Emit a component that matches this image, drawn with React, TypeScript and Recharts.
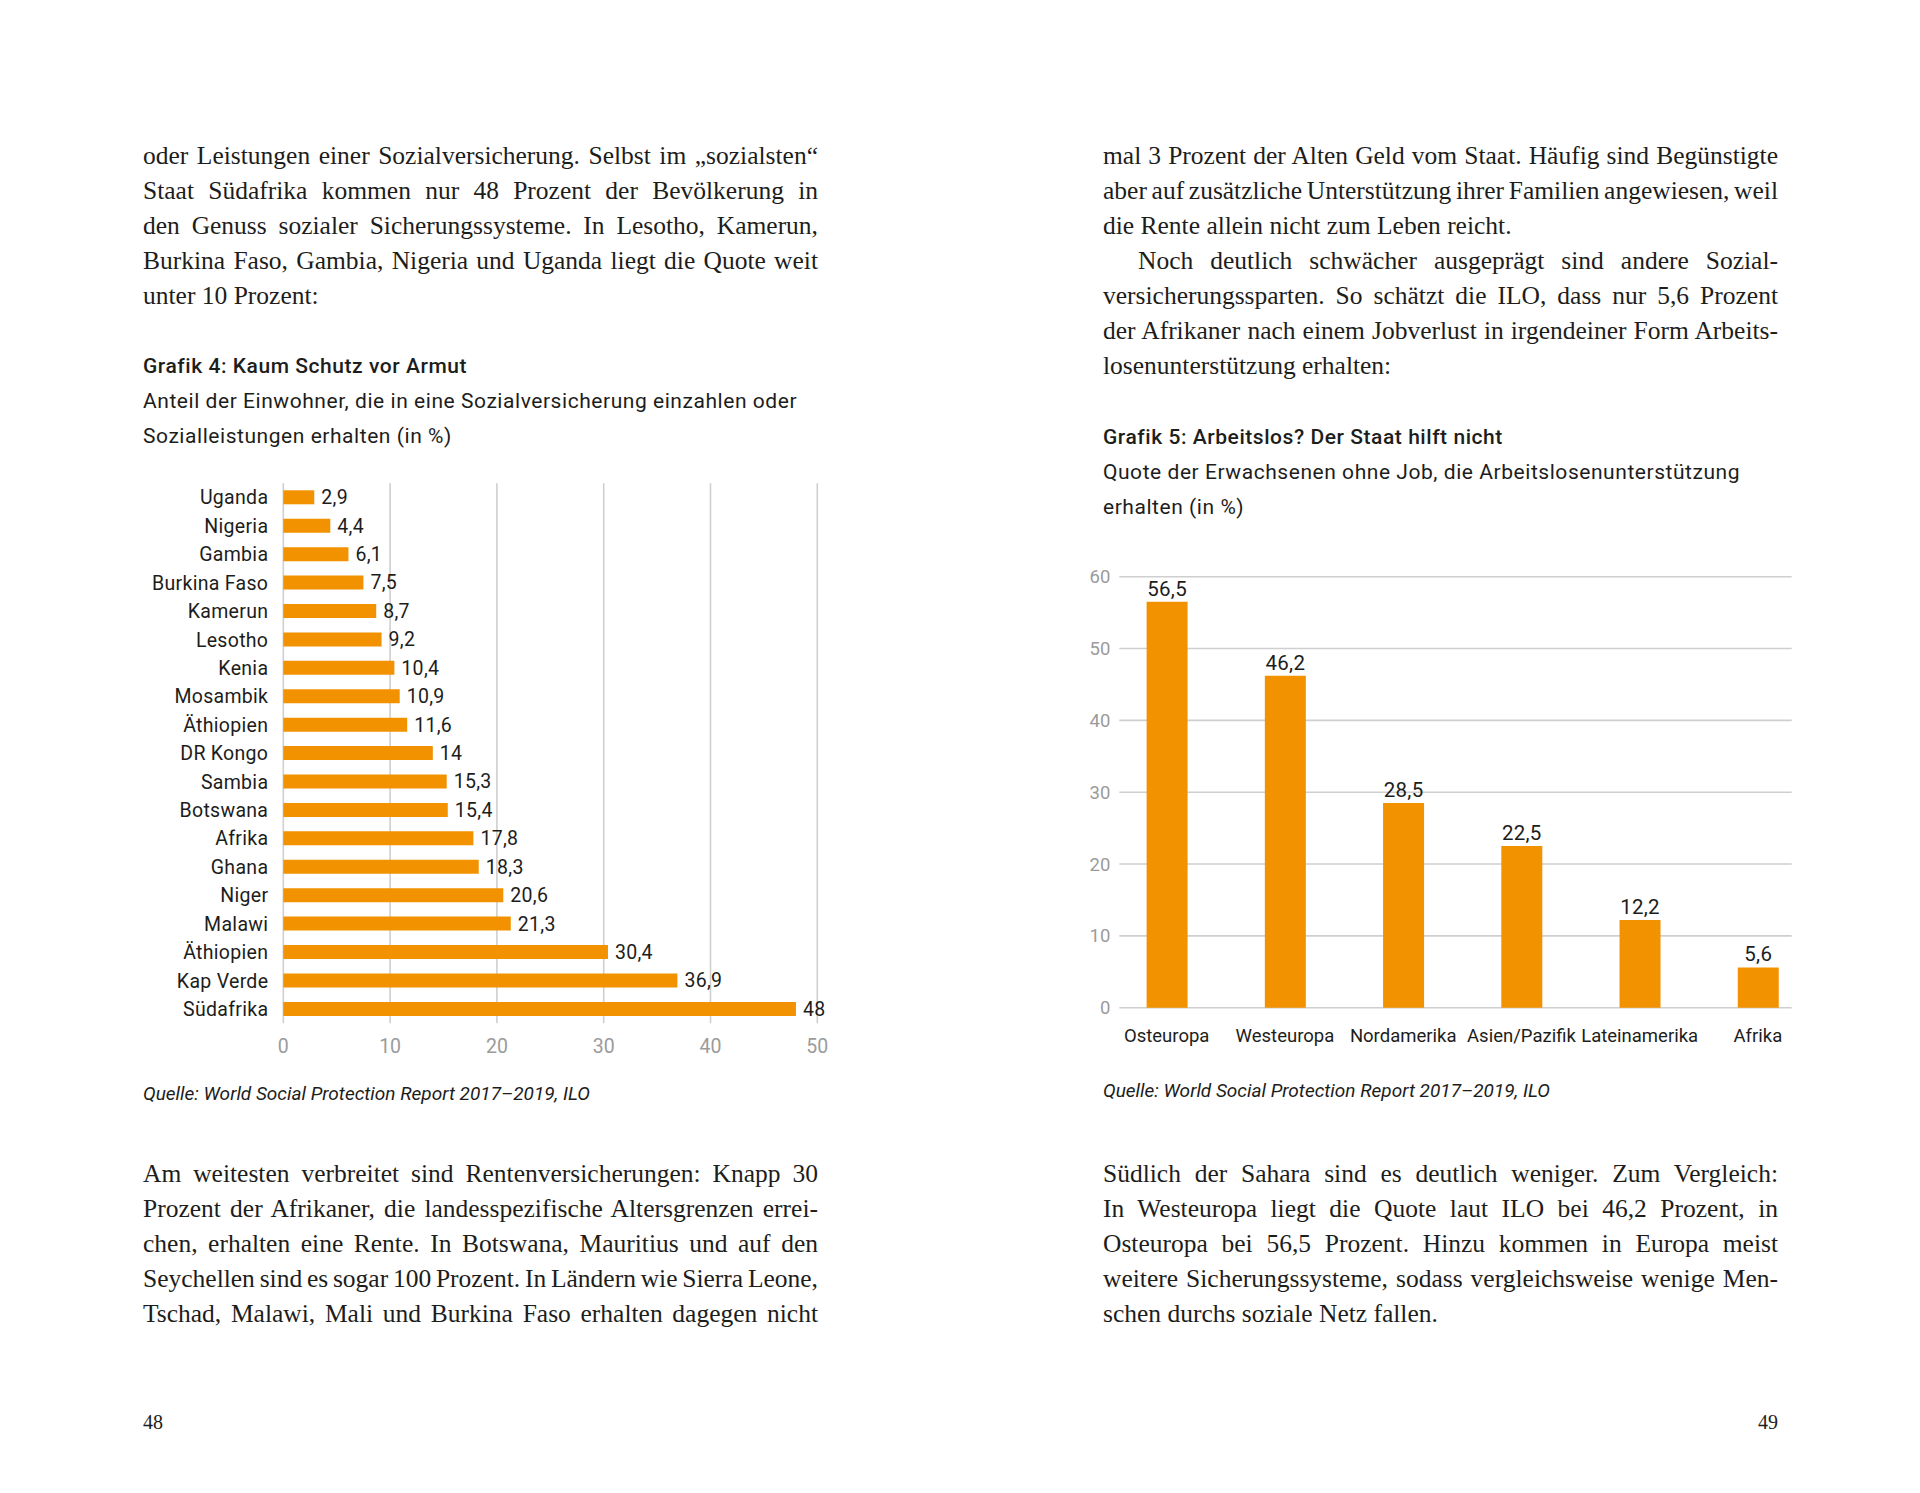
import React from "react";
import {
  BarChart,
  Bar,
  XAxis,
  YAxis,
  CartesianGrid,
  LabelList,
} from "recharts";

// Grafik 4: Anteil der Einwohner mit sozialer Sicherung (in %)
const countries = [
  "Uganda",
  "Nigeria",
  "Gambia",
  "Burkina Faso",
  "Kamerun",
  "Lesotho",
  "Kenia",
  "Mosambik",
  "Äthiopien",
  "DR Kongo",
  "Sambia",
  "Botswana",
  "Afrika",
  "Ghana",
  "Niger",
  "Malawi",
  "Äthiopien ",
  "Kap Verde",
  "Südafrika",
];
const coverage = [
  2.9, 4.4, 6.1, 7.5, 8.7, 9.2, 10.4, 10.9, 11.6, 14, 15.3, 15.4, 17.8, 18.3,
  20.6, 21.3, 30.4, 36.9, 48,
];
const coverageTicks = [0, 10, 20, 30, 40, 50];

// Grafik 5: Arbeitslosenunterstützung (in %)
const regions = [
  "Osteuropa",
  "Westeuropa",
  "Nordamerika",
  "Asien/Pazifik",
  "Lateinamerika",
  "Afrika",
];
const unemployment = [56.5, 46.2, 28.5, 22.5, 12.2, 5.6];
const unemploymentTicks = [0, 10, 20, 30, 40, 50, 60];

const ORANGE = "#f39200";
const GRID = "#cfcfcf";
const TICK_GREY = "#9b9b9b";
const INK = "#1d1d1b";
const SANS = "Roboto, 'DejaVu Sans Condensed', sans-serif";
const SERIF = "'Liberation Serif', 'DejaVu Serif', serif";

const comma = (v: any) => String(v).replace(".", ",");

const coverageData = countries.map((name, i) => ({ name, value: coverage[i] }));
const unemploymentData = regions.map((name, i) => ({
  name,
  value: unemployment[i],
}));

type Line = { text: string; last?: boolean; indent?: number };

function Para({ x, top, lines }: { x: number; top: number; lines: Line[] }) {
  return (
    <div
      style={{
        position: "absolute",
        left: x,
        top,
        width: 675,
        fontFamily: SERIF,
        fontSize: 25.5,
        lineHeight: "35px",
        color: INK,
      }}
    >
      {lines.map((l, i) => (
        <div
          key={i}
          style={{
            whiteSpace: "nowrap",
            textAlign: l.last ? "left" : "justify",
            textAlignLast: l.last ? "left" : "justify",
            // justified lines get squeezed first, the justification fills them up again
            wordSpacing: l.last ? 0 : -3,
            paddingLeft: l.indent || 0,
          }}
        >
          {l.text}
        </div>
      ))}
    </div>
  );
}

function Caption({
  x,
  top,
  title,
  sub,
}: {
  x: number;
  top: number;
  title: string;
  sub: string[];
}) {
  return (
    <div
      style={{
        position: "absolute",
        left: x,
        top,
        fontFamily: SANS,
        color: INK,
        whiteSpace: "nowrap",
        letterSpacing: 0.55,
      }}
    >
      <div style={{ fontSize: 21, fontWeight: 500, lineHeight: "36px" }}>
        {title}
      </div>
      {sub.map((s, i) => (
        <div key={i} style={{ fontSize: 21, lineHeight: "34.5px" }}>
          {s}
        </div>
      ))}
    </div>
  );
}

function Source({ x, top }: { x: number; top: number }) {
  return (
    <div
      style={{
        position: "absolute",
        left: x,
        top,
        fontFamily: SANS,
        fontStyle: "italic",
        fontSize: 19,
        lineHeight: "35px",
        color: INK,
        whiteSpace: "nowrap",
      }}
    >
      Quelle: World Social Protection Report 2017–2019, ILO
    </div>
  );
}

export default function App() {
  return (
    <div
      style={{
        position: "absolute",
        left: 0,
        top: 0,
        width: 1920,
        height: 1493,
        background: "#ffffff",
        overflow: "hidden",
      }}
    >
      {/* linke Seite */}
      <Para
        x={143}
        top={137.5}
        lines={[
          { text: "oder Leistungen einer Sozialversicherung. Selbst im „sozialsten“" },
          { text: "Staat Südafrika kommen nur 48 Prozent der Bevölkerung in" },
          { text: "den Genuss sozialer Sicherungssysteme. In Lesotho, Kamerun," },
          { text: "Burkina Faso, Gambia, Nigeria und Uganda liegt die Quote weit" },
          { text: "unter 10 Prozent:", last: true },
        ]}
      />
      <Caption
        x={143}
        top={348}
        title="Grafik 4: Kaum Schutz vor Armut"
        sub={[
          "Anteil der Einwohner, die in eine Sozialversicherung einzahlen oder",
          "Sozialleistungen erhalten (in %)",
        ]}
      />
      <div style={{ position: "absolute", left: 130, top: 470 }}>
        <BarChart
          width={720}
          height={600}
          data={coverageData}
          layout="vertical"
          margin={{ top: 13.3, right: 32.7, bottom: 16.7, left: 0 }}
          style={{ fontFamily: SANS }}
        >
          <CartesianGrid
            horizontal={false}
            stroke={GRID}
            strokeWidth={1.6}
          />
          <XAxis
            type="number"
            domain={[0, 50]}
            ticks={coverageTicks}
            axisLine={false}
            tickLine={false}
            tickMargin={9.5}
            height={30}
            tick={{ fill: TICK_GREY, fontSize: 19.5 }}
          />
          <YAxis
            type="category"
            dataKey="name"
            width={153.3}
            axisLine={false}
            tickLine={false}
            tickMargin={9}
            interval={0}
            tick={{ fill: INK, fontSize: 19.5, letterSpacing: 0.3 }}
          />
          <Bar
            dataKey="value"
            fill={ORANGE}
            barSize={14}
            isAnimationActive={false}
          >
            <LabelList
              dataKey="value"
              position="right"
              offset={7}
              formatter={comma}
              style={{ fill: INK, fontSize: 19.5, letterSpacing: 0.3 }}
            />
          </Bar>
        </BarChart>
      </div>
      <Source x={143} top={1076} />
      <Para
        x={143}
        top={1155.5}
        lines={[
          { text: "Am weitesten verbreitet sind Rentenversicherungen: Knapp 30" },
          { text: "Prozent der Afrikaner, die landesspezifische Altersgrenzen errei-" },
          { text: "chen, erhalten eine Rente. In Botswana, Mauritius und auf den" },
          { text: "Seychellen sind es sogar 100 Prozent. In Ländern wie Sierra Leone," },
          { text: "Tschad, Malawi, Mali und Burkina Faso erhalten dagegen nicht" },
        ]}
      />
      <div
        style={{
          position: "absolute",
          left: 143,
          top: 1404.5,
          fontFamily: SERIF,
          fontSize: 20,
          lineHeight: "35px",
          color: INK,
        }}
      >
        48
      </div>

      {/* rechte Seite */}
      <Para
        x={1103}
        top={137.5}
        lines={[
          { text: "mal 3 Prozent der Alten Geld vom Staat. Häufig sind Begünstigte" },
          { text: "aber auf zusätzliche Unterstützung ihrer Familien angewiesen, weil" },
          { text: "die Rente allein nicht zum Leben reicht.", last: true },
          { text: "Noch deutlich schwächer ausgeprägt sind andere Sozial-", indent: 35 },
          { text: "versicherungssparten. So schätzt die ILO, dass nur 5,6 Prozent" },
          { text: "der Afrikaner nach einem Jobverlust in irgendeiner Form Arbeits-" },
          { text: "losenunterstützung erhalten:", last: true },
        ]}
      />
      <Caption
        x={1103}
        top={419}
        title="Grafik 5: Arbeitslos? Der Staat hilft nicht"
        sub={[
          "Quote der Erwachsenen ohne Job, die Arbeitslosenunterstützung",
          "erhalten (in %)",
        ]}
      />
      <div style={{ position: "absolute", left: 1060, top: 550 }}>
        <BarChart
          width={780}
          height={520}
          data={unemploymentData}
          margin={{ top: 26.7, right: 48.3, bottom: 22.3, left: 0 }}
          style={{ fontFamily: SANS }}
        >
          <CartesianGrid vertical={false} stroke={GRID} strokeWidth={1.6} />
          <XAxis
            dataKey="name"
            axisLine={false}
            tickLine={false}
            tickMargin={15.5}
            height={40}
            interval={0}
            padding={{ left: -11.7, right: -25.3 }}
            tick={{ fill: INK, fontSize: 18.5 }}
          />
          <YAxis
            domain={[0, 60]}
            ticks={unemploymentTicks}
            width={59.3}
            axisLine={false}
            tickLine={false}
            tickMargin={3}
            tick={{ fill: TICK_GREY, fontSize: 18.5 }}
          />
          <Bar
            dataKey="value"
            fill={ORANGE}
            barSize={41}
            isAnimationActive={false}
          >
            <LabelList
              dataKey="value"
              position="top"
              offset={6}
              formatter={comma}
              style={{ fill: INK, fontSize: 20.5, letterSpacing: 0.3 }}
            />
          </Bar>
        </BarChart>
      </div>
      <Source x={1103} top={1072.5} />
      <Para
        x={1103}
        top={1155.5}
        lines={[
          { text: "Südlich der Sahara sind es deutlich weniger. Zum Vergleich:" },
          { text: "In Westeuropa liegt die Quote laut ILO bei 46,2 Prozent, in" },
          { text: "Osteuropa bei 56,5 Prozent. Hinzu kommen in Europa meist" },
          { text: "weitere Sicherungssysteme, sodass vergleichsweise wenige Men-" },
          { text: "schen durchs soziale Netz fallen.", last: true },
        ]}
      />
      <div
        style={{
          position: "absolute",
          left: 1103,
          top: 1404.5,
          width: 675,
          textAlign: "right",
          fontFamily: SERIF,
          fontSize: 20,
          lineHeight: "35px",
          color: INK,
        }}
      >
        49
      </div>
    </div>
  );
}
